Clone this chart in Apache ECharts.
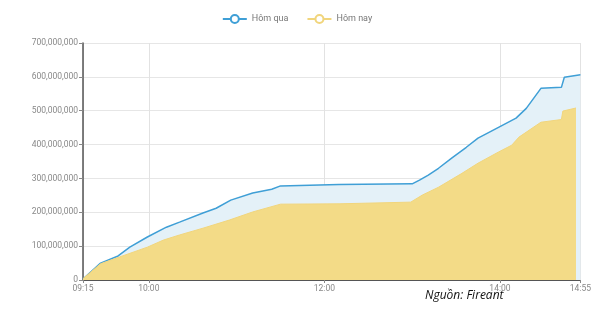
<!DOCTYPE html>
<html lang="vi">
<head>
    <meta charset="UTF-8" />
    <title>Hôm qua / Hôm nay</title>
    <script src="https://cdn.jsdelivr.net/npm/echarts@6/dist/echarts.min.js"></script>
    <style>
        html, body { margin: 0; padding: 0; background: #fff; }
        #chart { width: 594px; height: 309px; }
    </style>
</head>
<body>
<div id="chart"></div>
<script type="text/javascript">
    // time = minutes since midnight (555 = 09:15)
    const yesterdayTimes  = [555, 567, 579, 587, 599, 612, 621, 637, 646, 656, 671, 684, 690, 730, 780, 785, 791, 798, 807, 817, 825, 839, 851, 858, 868, 882, 884, 895];
    const yesterdayValues = [3e6, 50e6, 71e6, 97e6, 127e6, 156e6, 171e6, 198e6, 212e6, 236e6, 257e6, 268e6, 278e6, 282e6, 284e6, 295e6, 310e6, 330e6, 360e6, 392e6, 419e6, 451e6, 478e6, 507e6, 566e6, 569e6, 599e6, 606e6];

    const todayTimes  = [555, 567, 580, 599, 610, 621, 637, 655, 671, 690, 730, 779, 787, 798, 814, 825, 839, 848, 853, 868, 882, 883, 892];
    const todayValues = [4e6, 48e6, 68e6, 97e6, 118e6, 133e6, 153e6, 177e6, 201e6, 224e6, 225e6, 230e6, 251e6, 274e6, 315e6, 345e6, 378e6, 398e6, 422e6, 466e6, 474e6, 499e6, 508e6];

    const xTicks = [555, 600, 720, 840, 895];
    const legendNames = ['Hôm qua', 'Hôm nay'];

    function zip(a, b) { return a.map((v, i) => [v, b[i]]); }
    function hhmm(m) {
        const h = Math.floor(m / 60), mm = m % 60;
        return String(h).padStart(2, '0') + ':' + String(mm).padStart(2, '0');
    }

    const chart = echarts.init(document.getElementById('chart'), null, { renderer: 'canvas' });
    chart.setOption({
        animation: false,
        legend: {
            top: 9,
            left: 'center',
            itemWidth: 24,
            itemHeight: 10,
            itemGap: 18,
            textStyle: { color: '#777', fontSize: 9, fontFamily: 'Roboto' },
            data: legendNames
        },
        grid: { left: 83, right: 12, top: 43, bottom: 29 },
        xAxis: {
            type: 'value',
            min: 555,
            max: 895,
            axisLine: { lineStyle: { color: '#555', width: 1 } },
            axisTick: { show: true, customValues: xTicks, length: 3, lineStyle: { color: '#888' } },
            axisLabel: {
                customValues: xTicks,
                formatter: v => hhmm(v),
                color: '#888',
                fontSize: 8.5,
                fontFamily: 'Roboto',
                margin: 4
            },
            splitLine: { show: true, lineStyle: { color: '#e2e2e2' } }
        },
        yAxis: {
            type: 'value',
            min: 0,
            max: 700000000,
            interval: 100000000,
            axisLine: { show: true, lineStyle: { color: '#555', width: 1.5 } },
            axisTick: { show: true, length: 4, lineStyle: { color: '#888' } },
            axisLabel: {
                formatter: v => v.toLocaleString('en-US'),
                color: '#888',
                fontSize: 8.5,
                fontFamily: 'Roboto',
                margin: 5
            },
            splitLine: { show: true, lineStyle: { color: '#e6e6e6' } }
        },
        series: [
            {
                name: 'Hôm qua',
                type: 'line',
                data: zip(yesterdayTimes, yesterdayValues),
                showSymbol: false,
                symbol: 'emptyCircle',
                symbolSize: 7,
                lineStyle: { color: '#3f9fd6', width: 1.5 },
                itemStyle: { color: '#3f9fd6' },
                areaStyle: { color: '#e4f1f8', opacity: 1 },
                z: 2
            },
            {
                name: 'Hôm nay',
                type: 'line',
                data: zip(todayTimes, todayValues),
                showSymbol: false,
                symbol: 'emptyCircle',
                symbolSize: 7,
                lineStyle: { color: '#f1d57c', width: 1 },
                itemStyle: { color: '#f1d57c' },
                areaStyle: { color: '#f3db87', opacity: 1 },
                z: 3
            }
        ],
        graphic: [{
            type: 'text',
            left: 425,
            top: 290,
            style: {
                text: 'Nguồn: Fireant',
                font: 'italic 12px "Open Sans"',
                fill: '#111'
            }
        }]
    });
</script>
</body>
</html>
